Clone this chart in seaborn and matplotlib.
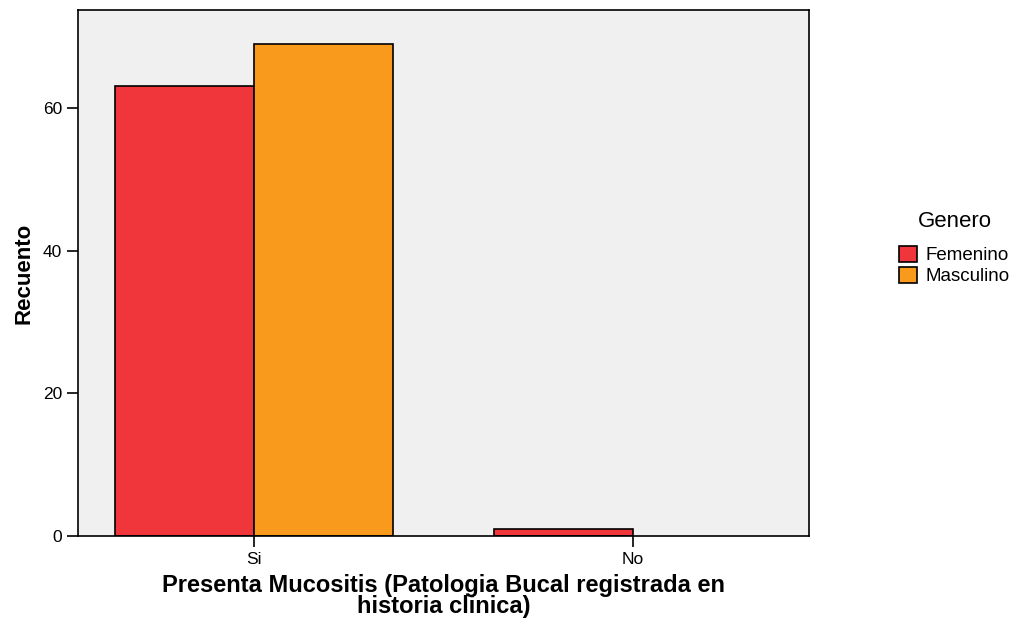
import matplotlib
matplotlib.use("Agg")
import matplotlib.pyplot as plt
import matplotlib.font_manager as fm
import seaborn as sns
import pandas as pd
import os
from matplotlib.patches import Patch

categories = ["Si", "No"]
genero = ["Femenino", "Masculino"]
femenino = [63, 1]
masculino = [69, 0]
colors = ["#F0353B", "#F99A1C"]

sns.set_style("ticks")
plt.rcParams['font.family'] = ['Liberation Sans', 'DejaVu Sans']
plt.rcParams['text.color'] = 'black'
plt.rcParams['axes.labelcolor'] = 'black'
plt.rcParams['xtick.color'] = 'black'
plt.rcParams['ytick.color'] = 'black'

bold_file = None
for f in fm.findSystemFonts():
    if os.path.basename(f) == "LiberationSans-Bold.ttf":
        bold_file = f
        break


def bold_props(size):
    if bold_file:
        return fm.FontProperties(fname=bold_file, size=size)
    return fm.FontProperties(family="Liberation Sans", weight="bold", size=size)


df = pd.DataFrame({
    "cat": categories * 2,
    "Genero": [genero[0]] * 2 + [genero[1]] * 2,
    "count": femenino + masculino,
})

fig = plt.figure(figsize=(10.19, 6.28), dpi=100)
ax = fig.add_axes([0.0765, 0.1465, 0.7175, 0.8375])
sns.barplot(data=df, x="cat", y="count", hue="Genero", order=categories,
            hue_order=genero, palette=colors, width=0.733, ax=ax,
            edgecolor="black", linewidth=1.2, saturation=1, legend=False)
for p in ax.patches:
    if p.get_height() == 0:
        p.set_visible(False)
ax.set_facecolor("#F0F0F0")
ax.set_xlim(-0.464, 1.464)
ax.set_ylim(0, 73.7)
ax.set_yticks([0, 20, 40, 60])
for s in ax.spines.values():
    s.set_linewidth(1.2)
    s.set_color("black")
ax.tick_params(axis="both", length=8, width=1.2, labelsize=12.5, color="black")
ax.set_ylabel("Recuento", fontproperties=bold_props(16), labelpad=6)
ax.set_xlabel("Presenta Mucositis (Patologia Bucal registrada en\nhistoria clinica)",
              fontproperties=bold_props(17), linespacing=0.9, labelpad=5)

handles = [Patch(facecolor=c, edgecolor="black", linewidth=1.2) for c in colors]
leg = fig.legend(handles, genero, title="Genero", loc="center left",
                 bbox_to_anchor=(0.866, 0.605), frameon=False, fontsize=13.5,
                 title_fontsize=16, handlelength=0.95, handleheight=0.95,
                 handletextpad=0.45, labelspacing=0.15)
leg.get_title().set_color("black")
leg._legend_box.sep = 10

fig.savefig("out.png", dpi=100)
